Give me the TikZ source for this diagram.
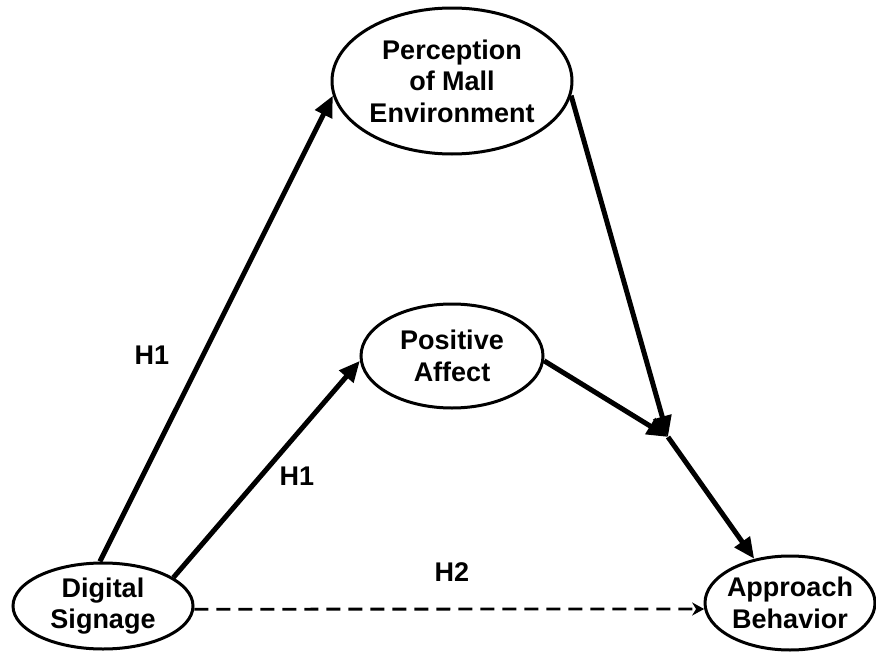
\documentclass[tikz,border=0pt]{standalone}
\usepackage{fontspec}
\setmainfont{Liberation Sans}
\usetikzlibrary{shapes.geometric,arrows.meta}
\begin{document}
\begin{tikzpicture}[x=1pt,y=-1pt,
  construct/.style={ellipse,draw,line width=3pt,inner xsep=-8pt,inner ysep=0pt,
    align=center,font=\fontsize{27}{31.5}\selectfont\bfseries},
  hyp/.style={font=\fontsize{27}{31.5}\selectfont\bfseries},
  path/.style={line width=5pt,-{Triangle[length=21pt,width=18pt]}},
  direct/.style={line width=2.8pt,dash pattern=on 14pt off 8pt,
    -{Stealth[length=12pt,width=13pt]}}]
\useasboundingbox (0,0) rectangle (876,653);

% constructs
\node[construct,minimum width=240pt,minimum height=146pt] (pme) at (452,81)
  {Perception\\of Mall\\Environment};
\node[construct,minimum width=182pt,minimum height=104pt] (pa) at (452,356)
  {Positive\\Affect};
\node[construct,minimum width=180pt,minimum height=86pt] (ds) at (103,606)
  {Digital\\Signage};
\node[construct,minimum width=170pt,minimum height=94pt] (ab) at (790,603)
  {Approach\\Behavior};

% where the two mediating paths meet
\coordinate (j) at (668,437);

% hypothesised paths
\draw[path] (ds.94) -- (pme.187.5);
\draw[path] (ds.22.7) -- (pa.183.7);
\draw[path] (pme.-7.6) -- (j);
\draw[path] (pa.-3.7) -- (j);
\draw[path] (j) -- (ab.129);
\draw[direct] (ds.-2.5) -- (ab.184.7);

% hypothesis labels
\node[hyp] (h1a) at (152,355) {H1};
\node[hyp] (h1b) at (297,476) {H1};
\node[hyp] (h2) at (452,572) {H2};
\end{tikzpicture}
\end{document}
